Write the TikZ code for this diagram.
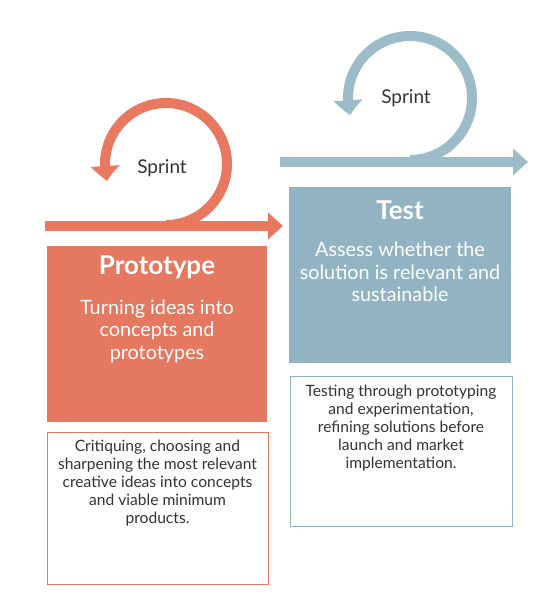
\documentclass[tikz,border=0pt]{standalone}
\usepackage{fontspec}
\setmainfont{Lato}
\usetikzlibrary{arrows.meta,bending}
\definecolor{salmon}{HTML}{E57860}
\definecolor{salmonarrow}{HTML}{E8785F}
\definecolor{bluebox}{HTML}{92B4C2}
\definecolor{bluearrow}{HTML}{9BBCC8}
\definecolor{txt}{HTML}{333333}
\tikzset{
  band/.style={line width=10pt},
  headtip/.style={-{Triangle[width=26pt,length=15pt]}},
  looptip/.style={-{Triangle[width=28pt,length=15pt,bend]}},
  phasebox/.style={draw=none,inner sep=0pt,anchor=south west},
  notebox/.style={draw,line width=0.8pt,fill=white,inner sep=0pt,anchor=south west},
  title/.style={text=white,font=\fontsize{26}{30}\selectfont\bfseries},
  body/.style={text=white,align=center,font=\fontsize{19.8}{22.5}\selectfont},
  note/.style={text=txt,align=center,font=\fontsize{15.6}{18}\selectfont},
  sprint/.style={text=txt,font=\fontsize{19}{22}\selectfont}
}
\begin{document}
\begin{tikzpicture}[x=1pt,y=1pt]
\useasboundingbox (0,0) rectangle (543,615);
% Prototype arrow
\coordinate (pL) at (45,389);
\coordinate (pR) at (283,389);
\coordinate (pB) at (166,390);
\draw[band,salmonarrow,headtip] (pL) -- (pR);
\draw[band,salmonarrow,looptip] (pB) arc[start angle=-90,end angle=196,radius=61];
\node[sprint] (ps) at (162,447) {Sprint};
% Test arrow
\coordinate (tL) at (280,453);
\coordinate (tR) at (528,453);
\coordinate (tB) at (410,455);
\draw[band,bluearrow,headtip] (tL) -- (tR);
\draw[band,bluearrow,looptip] (tB) arc[start angle=-90,end angle=196,radius=62];
\node[sprint] (ts) at (406,517) {Sprint};
% Prototype box
\node[phasebox,fill=salmon,minimum width=220pt,minimum height=176pt] (pbox) at (47,193) {};
\node[title] (ptitle) at (157,348) {Prototype};
\node[body] (pbody) at (157,284) {Turning ideas into\\concepts and\\prototypes};
% Test box
\node[phasebox,fill=bluebox,minimum width=222pt,minimum height=176pt] (tbox) at (289,252) {};
\node[title] (ttitle) at (400,405) {Test};
\node[body] (tbody) at (400,343) {Assess whether the\\solution is relevant and\\sustainable};
% Note boxes
\node[notebox,draw=salmon,minimum width=221pt,minimum height=152pt] (pnote) at (47,30) {};
\node[note] (pnotet) at (157.5,132) {Critiquing, choosing and\\sharpening the most relevant\\creative ideas into concepts\\and viable minimum\\products.};
\node[notebox,draw=bluebox,minimum width=222pt,minimum height=150pt] (tnote) at (290,88) {};
\node[note] (tnotet) at (401,187) {Testing through prototyping\\and experimentation,\\refining solutions before\\launch and market\\implementation.};
\end{tikzpicture}
\end{document}
